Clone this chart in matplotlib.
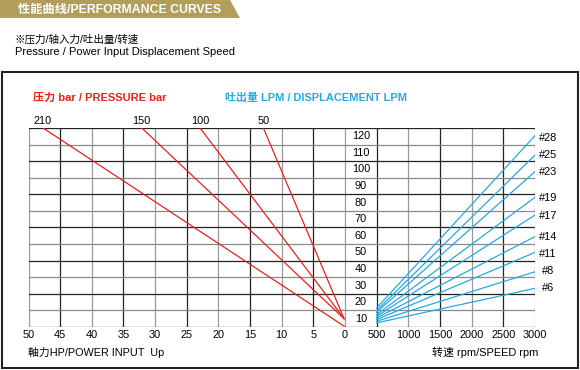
import matplotlib
matplotlib.use("Agg")
import matplotlib.pyplot as plt
from matplotlib.patches import Polygon, Rectangle

plt.rcParams['font.family'] = ['Liberation Sans', 'Noto Sans CJK SC']

# ---- data ----
hp_ticks = [50, 45, 40, 35, 30, 25, 20, 15, 10, 5, 0]
rpm_ticks = [500, 1000, 1500, 2000, 2500, 3000]
lpm_labels = [120, 110, 100, 90, 80, 70, 60, 50, 40, 30, 20, 10]

pressure = [210, 150, 100, 50]
p_hp_top = [47.7, 32.1, 22.9, 12.9]      # HP at top of chart (125 LPM)
p_lpm_end = [5.5, 10, 10, 10]             # LPM at 0 HP

pumps = ['#28', '#25', '#23', '#19', '#17', '#14', '#11', '#8', '#6']
lpm_500 = [16.5, 15, 14, 12.5, 11.5, 10.5, 9.5, 8.5, 7.5]
lpm_3000 = [120.4, 108.7, 98.7, 83.2, 72.5, 59.5, 50, 38.3, 28.3]
label_y = [119, 108.5, 98.5, 82.5, 72, 59.5, 49, 38.5, 28.5]

RED = '#e8211c'
BLUE = '#25a9e0'
GOLD = '#b39d5a'
FS = 7.9

def hx(h):
    return (50 - h) / 5.0

def rx(r):
    return 11 + (r - 500) / 500.0

W, H = 580, 370
fig = plt.figure(figsize=(W / 100, H / 100), dpi=100)

# header banner and outer frame
bg = fig.add_axes([0, 0, 1, 1])
bg.set_xlim(0, W)
bg.set_ylim(H, 0)
bg.axis('off')
bg.add_patch(Polygon([[0, 0], [230, 0], [240, 18], [0, 18]], closed=True,
                     facecolor=GOLD, edgecolor='none'))
bg.text(18, 9.5, '性能曲线/PERFORMANCE CURVES', color='white', fontsize=8.8,
        fontweight='bold', va='center', ha='left')
bg.text(15, 40, '※压力/轴入力/吐出量/转速', fontsize=7.6, va='center', ha='left')
bg.text(15, 52, 'Pressure / Power Input Displacement Speed', fontsize=8.0,
        va='center', ha='left')
bg.add_patch(Rectangle((1.5, 71.5), 576, 296, facecolor='none',
                       edgecolor='#222222', linewidth=1.5))
bg.text(33, 98, '压力 bar / PRESSURE bar', color=RED, fontsize=8.0,
        fontweight='bold', va='center', ha='left')
bg.text(225, 98, '吐出量 LPM / DISPLACEMENT LPM', color=BLUE, fontsize=7.9,
        fontweight='bold', va='center', ha='left')
bg.text(28, 352, '軸力HP/POWER INPUT  Up', fontsize=7.8, va='center', ha='left')
bg.text(538, 352, '转速 rpm/SPEED rpm', fontsize=7.9, va='center', ha='right')

# chart grid area
x0, x1, y0, y1 = 28.5, 535, 128, 327
ax = fig.add_axes([x0 / W, 1 - y1 / H, (x1 - x0) / W, (y1 - y0) / H])
ax.set_xlim(0, 16)
ax.set_ylim(5, 125)
for s in ax.spines.values():
    s.set_visible(False)
ax.set_facecolor('none')

for i in range(17):
    c = '#222222' if i % 2 == 1 else '#9a9a9a'
    if i in (10, 11):
        c = '#9a9a9a' if i == 10 else '#222222'
    ax.axvline(i, color=c, linewidth=0.9, zorder=1)
for j, yv in enumerate(range(5, 126, 10)):
    c = '#222222' if j % 2 == 0 else '#8a8a8a'
    ax.axhline(yv, color=c, linewidth=0.9, zorder=1)

ax.set_xticks([hx(h) for h in hp_ticks] + [rx(r) for r in rpm_ticks])
ax.set_xticklabels([str(h) for h in hp_ticks] + [str(r) for r in rpm_ticks],
                   fontsize=FS)
ax.tick_params(axis='x', length=0, pad=2)
ax.set_yticks([])

for v in lpm_labels:
    ax.text(10.5, v, str(v), fontsize=FS, ha='center', va='center')

for p, h, e in zip(pressure, p_hp_top, p_lpm_end):
    ax.plot([hx(h), hx(0) - 0.03], [125, e], color=RED, linewidth=0.9, zorder=3)
    ax.text(hx(h), 129.3, str(p), fontsize=FS, ha='center', va='center',
            clip_on=False)

for name, a, b, ly in zip(pumps, lpm_500, lpm_3000, label_y):
    ax.plot([rx(500), rx(3000)], [a, b], color=BLUE, linewidth=0.9, zorder=3)
    ax.text(rx(3000) + 0.4, ly, name, fontsize=FS, ha='center', va='center',
            clip_on=False)

fig.savefig('out.png', dpi=100)
